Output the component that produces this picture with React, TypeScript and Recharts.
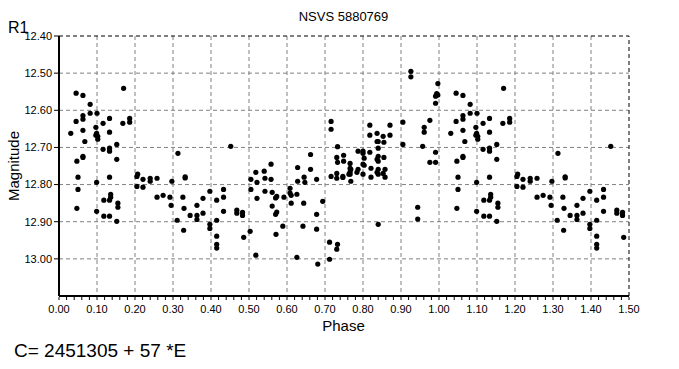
import {
  ScatterChart, Scatter, XAxis, YAxis, CartesianGrid, ReferenceLine
} from "recharts"

// phase (0..1) and R1 magnitude
const phases = [
  0.170, 0.045, 0.063, 0.082, 0.063, 0.082, 0.100, 0.063, 0.045, 0.133,
  0.116, 0.186, 0.186, 0.168, 0.097, 0.031, 0.063, 0.133, 0.099, 0.097,
  0.102, 0.102, 0.068, 0.152, 0.116, 0.133, 0.133, 0.063, 0.063, 0.047,
  0.152, 0.207, 0.205, 0.050, 0.133, 0.221, 0.240, 0.240, 0.099, 0.205,
  0.221, 0.050, 0.136, 0.136, 0.118, 0.133, 0.155, 0.155, 0.047, 0.099,
  0.118, 0.133, 0.152,
  0.258, 0.297, 0.332, 0.332, 0.313, 0.452, 0.258, 0.274, 0.292, 0.295,
  0.326, 0.329, 0.311, 0.345, 0.363, 0.363, 0.363, 0.379, 0.379, 0.397,
  0.397, 0.397, 0.328, 0.415, 0.433, 0.433, 0.433, 0.415, 0.415, 0.415,
  0.415, 0.468, 0.468, 0.483, 0.483, 0.486, 0.503,
  0.716, 0.716, 0.505, 0.505, 0.518, 0.521, 0.540, 0.542, 0.558, 0.558,
  0.521, 0.542, 0.561, 0.570, 0.573, 0.561, 0.570, 0.573, 0.592, 0.608,
  0.608, 0.611, 0.611, 0.626, 0.628, 0.628, 0.645, 0.647, 0.644, 0.662,
  0.662, 0.678, 0.694, 0.678, 0.678, 0.642, 0.589, 0.571, 0.518, 0.626,
  0.681, 0.712, 0.712, 0.733, 0.731, 0.716, 0.731, 0.731, 0.747, 0.747,
  0.733, 0.731, 0.733, 0.749, 0.749,
  0.926, 0.926, 0.997, 0.994, 0.997, 0.991, 0.991, 0.976, 0.961, 0.961,
  0.905, 0.905, 0.957, 0.991, 0.976, 0.991, 0.818, 0.871, 0.818, 0.837,
  0.853, 0.871, 0.837, 0.840, 0.855, 0.840, 0.787, 0.800, 0.800, 0.818,
  0.840, 0.837, 0.840, 0.855, 0.766, 0.803, 0.800, 0.803, 0.766, 0.768,
  0.766, 0.787, 0.784, 0.763, 0.766, 0.800, 0.821, 0.840, 0.837, 0.840,
  0.853, 0.858, 0.858, 0.821, 0.768, 0.944, 0.944, 0.840,
]

const mags = [
  12.541, 12.554, 12.560, 12.584, 12.614, 12.608, 12.608, 12.624, 12.630, 12.622,
  12.635, 12.622, 12.632, 12.635, 12.646, 12.662, 12.654, 12.659, 12.662, 12.667,
  12.670, 12.678, 12.684, 12.692, 12.705, 12.702, 12.710, 12.724, 12.727, 12.737,
  12.732, 12.772, 12.778, 12.780, 12.780, 12.786, 12.783, 12.791, 12.794, 12.805,
  12.807, 12.813, 12.826, 12.834, 12.842, 12.842, 12.850, 12.861, 12.864, 12.872,
  12.885, 12.885, 12.899,
  12.783, 12.791, 12.779, 12.782, 12.716, 12.697, 12.834, 12.829, 12.834, 12.856,
  12.834, 12.864, 12.896, 12.883, 12.883, 12.894, 12.856, 12.837, 12.877, 12.818,
  12.907, 12.918, 12.923, 12.842, 12.813, 12.834, 12.872, 12.896, 12.939, 12.961,
  12.971, 12.869, 12.877, 12.875, 12.883, 12.942, 12.926,
  12.630, 12.651, 12.786, 12.813, 12.767, 12.794, 12.764, 12.783, 12.745, 12.786,
  12.837, 12.818, 12.821, 12.836, 12.832, 12.858, 12.880, 12.874, 12.834, 12.810,
  12.823, 12.829, 12.850, 12.826, 12.754, 12.791, 12.780, 12.794, 12.850, 12.719,
  12.759, 12.786, 12.845, 12.880, 12.920, 12.912, 12.912, 12.934, 12.990, 12.996,
  13.014, 13.001, 12.955, 12.961, 12.974, 12.778, 12.783, 12.770, 12.778, 12.781,
  12.698, 12.727, 12.740, 12.721, 12.737,
  12.495, 12.510, 12.528, 12.555, 12.559, 12.562, 12.581, 12.627, 12.646, 12.659,
  12.632, 12.692, 12.697, 12.713, 12.740, 12.740, 12.640, 12.640, 12.667, 12.662,
  12.670, 12.667, 12.684, 12.684, 12.686, 12.702, 12.710, 12.710, 12.716, 12.713,
  12.724, 12.732, 12.737, 12.727, 12.743, 12.729, 12.745, 12.748, 12.756, 12.759,
  12.766, 12.759, 12.767, 12.772, 12.772, 12.772, 12.756, 12.759, 12.767, 12.772,
  12.770, 12.759, 12.780, 12.780, 12.791, 12.861, 12.893, 12.907,
]

const xMajor = [0, 0.1, 0.2, 0.3, 0.4, 0.5, 0.6, 0.7, 0.8, 0.9, 1.0, 1.1, 1.2, 1.3, 1.4, 1.5]
const yTicks = [12.4, 12.5, 12.6, 12.7, 12.8, 12.9, 13.0]
const xTicks = Array.from({ length: 76 }, (_, i) => +(i * 0.02).toFixed(2))

// the fold is shown over 1.5 cycles, so every point appears again one phase later
const points: { phase: number; mag: number }[] = []
phases.forEach((p, i) => {
  points.push({ phase: p, mag: mags[i] })
  if (p + 1 <= 1.5) points.push({ phase: p + 1, mag: mags[i] })
})

const PhaseTick = ({ x, y, payload }: any) => {
  const v = payload.value
  const major = Math.round(v * 100) % 10 === 0
  return (
    <g>
      <line x1={x} x2={x} y1={y + 1} y2={y + 4} stroke="#000" />
      {major && (
        <text x={x} y={y + 17} textAnchor="middle" fontSize={11} fill="#000">
          {v.toFixed(2)}
        </text>
      )}
    </g>
  )
}

const Dot = (props: any) => <circle cx={props.cx} cy={props.cy} r={2.6} fill="#000" />

export default function App() {
  return (
    <div style={{
      position: "absolute", left: 0, top: 0, width: 679, height: 369,
      background: "#fff", fontFamily: "Arial, 'Liberation Sans', sans-serif"
    }}>
      <ScatterChart width={679} height={369} margin={{ top: 36, right: 50, bottom: 37, left: 0 }}>
        <CartesianGrid
          stroke="#808080"
          strokeDasharray="4 3"
          horizontalValues={[12.5, 12.6, 12.7, 12.8, 12.9, 13.0]}
          verticalValues={xMajor.slice(1, -1)}
        />
        <XAxis
          type="number" dataKey="phase" domain={[0, 1.5]} allowDataOverflow
          ticks={xTicks} interval={0} height={36}
          tickSize={0} tickMargin={0} tickLine={false}
          tick={<PhaseTick />}
          axisLine={{ stroke: "#000", strokeWidth: 2 }}
        />
        <YAxis
          type="number" dataKey="mag" domain={[12.4, 13.1]} allowDataOverflow reversed
          ticks={yTicks} interval={0} width={59}
          tickSize={5} tickMargin={2}
          tickFormatter={(v: number) => v.toFixed(2)}
          tick={{ fontSize: 11, fill: "#000" }}
          tickLine={{ stroke: "#000" }}
          axisLine={{ stroke: "#000", strokeWidth: 2 }}
        />
        <ReferenceLine y={12.4} stroke="#000" strokeDasharray="4 3" />
        <ReferenceLine x={1.5} stroke="#000" strokeDasharray="4 3" />
        <Scatter data={points} shape={Dot} isAnimationActive={false} />
      </ScatterChart>
      <svg width={679} height={369} style={{ position: "absolute", left: 0, top: 0, pointerEvents: "none" }}>
        <text x={343.5} y={21} textAnchor="middle" fontSize={13} fill="#000">NSVS 5880769</text>
        <text x={8} y={32.5} fontSize={16} fill="#000">R1</text>
        <text x={19} y={166} fontSize={15} fill="#000" textAnchor="middle" transform="rotate(-90 19 166)">Magnitude</text>
        <text x={343.5} y={331} fontSize={15} fill="#000" textAnchor="middle">Phase</text>
        <text x={14} y={357} fontSize={19} fill="#000">C= 2451305 + 57 *E</text>
      </svg>
    </div>
  )
}
